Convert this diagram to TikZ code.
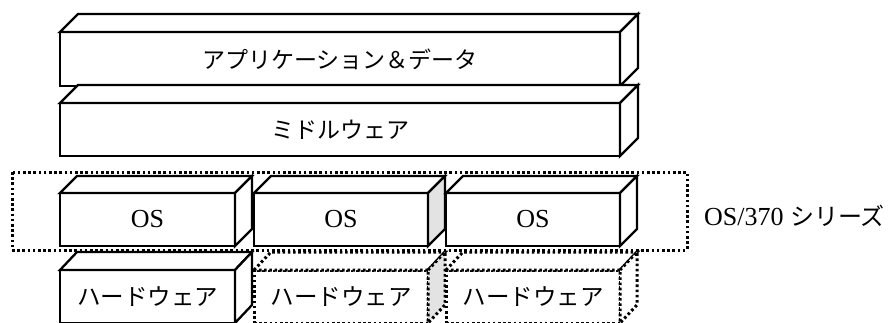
\documentclass[tikz,border=0pt]{standalone}
\usepackage{fontspec}
\setmainfont{Liberation Serif}
\newfontfamily\cjk{Noto Sans CJK JP}
\tikzset{
  solidline/.style={draw=black,line width=2.3pt,line join=miter},
  dotline/.style={draw=black,line width=3pt,dash pattern=on 2.6pt off 2.6pt},
  front/.style={rectangle,fill=white,outer sep=0pt,inner sep=0pt},
  jp/.style={font=\cjk\fontsize{23}{26}\selectfont},
  jphw/.style={font=\cjk\fontsize{23.5}{26}\selectfont},
  lat/.style={font=\fontsize{26}{30}\selectfont},
}
\begin{document}
\begin{tikzpicture}[x=1pt,y=-1pt]
\useasboundingbox (0,0) rectangle (892,322);
\clip (0,0) rectangle (892,322);
\fill[white] (0,0) rectangle (892,322);
% application
\node[front,solidline,minimum width=560pt,minimum height=54pt,anchor=north west] (app) at (60,32) {};
\draw[solidline,fill=white] (app.north west) -- ++(18,-18) -- ++(560,0) -- (app.north east) -- cycle;
\draw[solidline,fill=white] (app.north east) -- ++(18,-18) -- ++(0,54) -- (app.south east) -- cycle;
\node[jp] (apptxt) at (app.center) {アプリケーション＆データ};
% middleware
\node[front,solidline,minimum width=560pt,minimum height=53pt,anchor=north west] (mid) at (60,103) {};
\draw[solidline,fill=white] (mid.north west) -- ++(18,-18) -- ++(560,0) -- (mid.north east) -- cycle;
\draw[solidline,fill=white] (mid.north east) -- ++(18,-18) -- ++(0,53) -- (mid.south east) -- cycle;
\node[jp] (midtxt) at (mid.center) {ミドルウェア};
% hardware
\node[front,solidline,minimum width=175pt,minimum height=53pt,anchor=north west] (hw1) at (60,270) {};
\draw[solidline,fill=white] (hw1.north west) -- ++(17,-18) -- ++(175,0) -- (hw1.north east) -- cycle;
\draw[solidline,fill=white] (hw1.north east) -- ++(17,-18) -- ++(0,53) -- (hw1.south east) -- cycle;
\node[jphw] (hw1txt) at (hw1.center) {ハードウェア};
\node[front,dotline,minimum width=174pt,minimum height=53pt,anchor=north west] (hw2) at (254,270) {};
\draw[dotline,fill=white] (hw2.north west) -- ++(17,-18) -- ++(174,0) -- (hw2.north east) -- cycle;
\draw[dotline,fill=gray!22] (hw2.north east) -- ++(17,-18) -- ++(0,53) -- (hw2.south east) -- cycle;
\node[jphw] (hw2txt) at (hw2.center) {ハードウェア};
\node[front,dotline,minimum width=174pt,minimum height=53pt,anchor=north west] (hw3) at (446,270) {};
\draw[dotline,fill=white] (hw3.north west) -- ++(17,-18) -- ++(174,0) -- (hw3.north east) -- cycle;
\draw[dotline,fill=white] (hw3.north east) -- ++(17,-18) -- ++(0,53) -- (hw3.south east) -- cycle;
\node[jphw] (hw3txt) at (hw3.center) {ハードウェア};
% OS group
\node[draw=none,minimum width=675pt,minimum height=78pt,anchor=north west,outer sep=0pt] (grp) at (12,172) {};
\draw[dotline] (grp.north west) rectangle (grp.south east);
% OS boxes
\node[front,solidline,minimum width=175pt,minimum height=53pt,anchor=north west] (os1) at (60,193) {};
\draw[solidline,fill=white] (os1.north west) -- ++(17,-17) -- ++(175,0) -- (os1.north east) -- cycle;
\draw[solidline,fill=white] (os1.north east) -- ++(17,-17) -- ++(0,53) -- (os1.south east) -- cycle;
\node[lat] (os1txt) at (os1.center) {OS};
\node[front,solidline,minimum width=174pt,minimum height=53pt,anchor=north west] (os2) at (254,193) {};
\draw[solidline,fill=white] (os2.north west) -- ++(17,-17) -- ++(174,0) -- (os2.north east) -- cycle;
\draw[solidline,fill=gray!22] (os2.north east) -- ++(17,-17) -- ++(0,53) -- (os2.south east) -- cycle;
\node[lat] (os2txt) at (os2.center) {OS};
\node[front,solidline,minimum width=174pt,minimum height=53pt,anchor=north west] (os3) at (446,193) {};
\draw[solidline,fill=white] (os3.north west) -- ++(17,-17) -- ++(174,0) -- (os3.north east) -- cycle;
\draw[solidline,fill=white] (os3.north east) -- ++(17,-17) -- ++(0,53) -- (os3.south east) -- cycle;
\node[lat] (os3txt) at (os3.center) {OS};
% label
\node[lat,anchor=west,inner sep=0pt] (series) at (704,216) {OS/370 {\cjk\fontsize{24}{28}\selectfont シリーズ}};
\end{tikzpicture}
\end{document}
